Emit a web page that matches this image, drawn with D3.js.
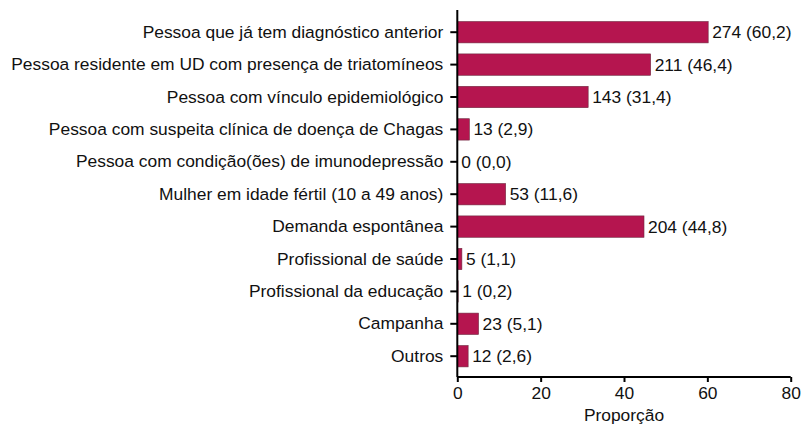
<!DOCTYPE html>
<html><head><meta charset="utf-8">
<script src="https://cdn.jsdelivr.net/npm/d3@7"></script>
<style>body{margin:0;background:#fff}svg{display:block;font-family:"Liberation Sans",Arial,sans-serif}</style>
</head><body>
<script>
const categories = ["Pessoa que já tem diagnóstico anterior","Pessoa residente em UD com presença de triatomíneos","Pessoa com vínculo epidemiológico","Pessoa com suspeita clínica de doença de Chagas","Pessoa com condição(ões) de imunodepressão","Mulher em idade fértil (10 a 49 anos)","Demanda espontânea","Profissional de saúde","Profissional da educação","Campanha","Outros"];
const counts = [274,211,143,13,0,53,204,5,1,23,12];
const proportions = [60.2,46.4,31.4,2.9,0.0,11.6,44.8,1.1,0.2,5.1,2.6];
const xTicks = [0,20,40,60,80];
const xTitle = "Proporção";

const W=803,H=432,FS=17.4;
const svg=d3.select("body").append("svg").attr("width",W).attr("height",H);
const x=d3.scaleLinear().domain([0,80]).range([457.3,790.7]);
const y=d3.scaleBand().domain(categories).range([16,372.4]).paddingInner(0.34).paddingOuter(0.17);
const data=categories.map((c,i)=>({c,n:counts[i],p:proportions[i]}));
const fmt=v=>v.toFixed(1).replace(".",",");

svg.append("g").selectAll("rect").data(data).join("rect")
 .attr("x",x(0)).attr("y",d=>y(d.c)).attr("width",d=>x(d.p)-x(0)).attr("height",y.bandwidth())
 .attr("fill","#b5154f").attr("stroke","#6e2a40").attr("stroke-width",0.6);

svg.append("g").selectAll("text").data(data).join("text")
 .attr("x",d=>x(d.p)+4).attr("y",d=>y(d.c)+y.bandwidth()/2).attr("dy","0.35em")
 .attr("font-size",FS).attr("fill","#111").text(d=>`${d.n} (${fmt(d.p)})`);

// y axis
const ya=svg.append("g").attr("transform",`translate(${x(0)},0)`)
 .call(d3.axisLeft(y).tickSize(7).tickPadding(7));
ya.select(".domain").attr("d",`M0,10V377`).attr("stroke","#000").attr("stroke-width",2);
ya.selectAll(".tick line").attr("stroke","#000").attr("stroke-width",2);
ya.selectAll(".tick text").attr("font-size",FS).attr("fill","#111").attr("font-family","Liberation Sans, Arial, sans-serif");

// x axis
const xa=svg.append("g").attr("transform",`translate(0,377)`)
 .call(d3.axisBottom(x).tickValues(xTicks).tickSize(5).tickPadding(5).tickFormat(d3.format("d")));
xa.select(".domain").attr("d",`M${x(0)},0H${x(80)}`).attr("stroke","#000").attr("stroke-width",2);
xa.selectAll(".tick line").attr("stroke","#000").attr("stroke-width",2);
xa.selectAll(".tick text").attr("font-size",FS).attr("fill","#111").attr("font-family","Liberation Sans, Arial, sans-serif");

svg.append("text").attr("x",(x(0)+x(80))/2).attr("y",421).attr("text-anchor","middle")
 .attr("font-size",FS).attr("fill","#111").text(xTitle);
</script>
</body></html>
